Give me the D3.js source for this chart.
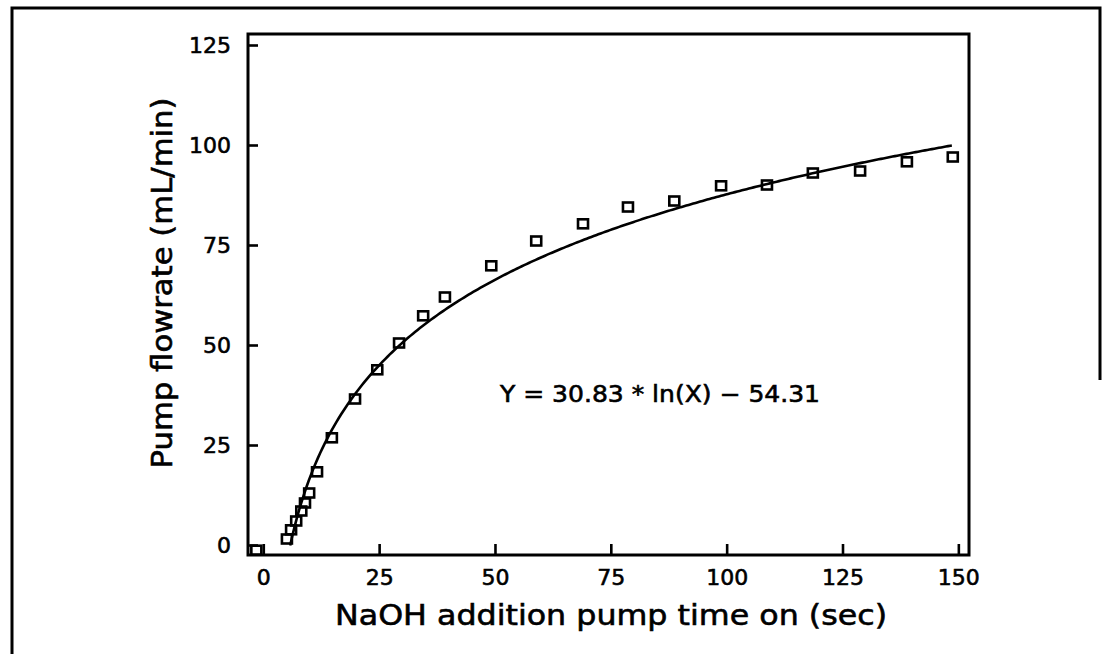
<!DOCTYPE html>
<html>
<head>
<meta charset="utf-8">
<script src="https://cdn.jsdelivr.net/npm/d3@7/dist/d3.min.js"></script>
<style>
  body { margin: 0; background: #fff; }
  svg text { font-family: "DejaVu Sans", sans-serif; fill: #000; stroke: #000; stroke-width: 0.6px; }
</style>
</head>
<body>
<div id="chart"></div>
<script>
// pump time on (sec) vs flowrate (mL/min)
var timeOn   = [-1.5, 5.1, 6.0, 7.1, 8.2, 9.0, 9.9, 11.6, 14.8, 19.8, 24.6, 29.3, 34.5, 39.2,
                49.2, 58.9, 69.0, 78.7, 88.7, 98.8, 108.7, 118.6, 128.8, 138.9, 148.8];
var flowrate = [-1.3, 1.5, 3.8, 6.0, 8.5, 10.5, 13.0, 18.3, 26.8, 36.5, 43.8, 50.5, 57.3, 62.0,
                69.8, 76.0, 80.3, 84.5, 86.0, 89.8, 90.0, 93.0, 93.5, 95.8, 97.0];

var xTicks = [0, 25, 50, 75, 100, 125, 150];
var yTicks = [0, 25, 50, 75, 100, 125];

// fitted curve  Y = 30.83 * ln(X) - 54.31
var fitSlope = 30.83, fitIntercept = -54.31;
var fitFrom = 5.8, fitTo = 148.6;

var W = 1104, H = 654;
var box = { left: 248, right: 969, top: 34, bottom: 555 };

var svg = d3.select('#chart').append('svg')
    .attr('width', W)
    .attr('height', H);

// outer frame of the scanned page (top, left, part of right)
svg.append('path')
    .attr('d', 'M12,654 L12,8 L1100,8 L1100,380')
    .attr('fill', 'none')
    .attr('stroke', '#000')
    .attr('stroke-width', 3);

var x = d3.scaleLinear().domain([-3.3, 152.3]).range([box.left, box.right]);
var y = d3.scaleLinear().domain([-2.5, 127.75]).range([box.bottom, box.top]);

var xAxis = d3.axisBottom(x).tickValues(xTicks).tickSize(-11).tickSizeOuter(0).tickPadding(14);
var yAxis = d3.axisLeft(y).tickValues(yTicks).tickSize(-10).tickSizeOuter(0).tickPadding(17);

var gx = svg.append('g')
    .attr('transform', 'translate(0,' + box.bottom + ')')
    .call(xAxis);
var gy = svg.append('g')
    .attr('transform', 'translate(' + box.left + ',0)')
    .call(yAxis);

[gx, gy].forEach(function(g) {
    g.select('.domain').remove();
    g.selectAll('.tick line').attr('stroke', '#000').style('stroke-width', '2.6px');
    g.selectAll('.tick text')
        .attr('font-size', '22px')
        .attr('font-family', '"DejaVu Sans", sans-serif')
        .attr('fill', '#000');
});

// plot box
svg.append('rect')
    .attr('x', box.left)
    .attr('y', box.top)
    .attr('width', box.right - box.left)
    .attr('height', box.bottom - box.top)
    .attr('fill', 'none')
    .attr('stroke', '#000')
    .attr('stroke-width', 3);

// fitted curve
var fitX = d3.range(fitFrom, fitTo, 0.5).concat([fitTo]);
var line = d3.line()
    .x(d => x(d))
    .y(d => y(fitSlope * Math.log(d) + fitIntercept));

svg.append('path')
    .datum(fitX)
    .attr('d', line)
    .attr('fill', 'none')
    .attr('stroke', '#000')
    .attr('stroke-width', 2.6);

// data squares
svg.selectAll('.pt')
    .data(timeOn)
    .enter()
    .append('rect')
        .attr('class', 'pt')
        .attr('x', (d, i) => x(d) - 5)
        .attr('y', (d, i) => y(flowrate[i]) - 4.5)
        .attr('width', 10)
        .attr('height', 9)
        .attr('fill', 'none')
        .attr('stroke', '#000')
        .attr('stroke-width', 2.6);

// equation
svg.append('text')
    .attr('x', 500)
    .attr('y', 402)
    .attr('font-size', '23px')
    .attr('textLength', 320)
    .attr('lengthAdjust', 'spacingAndGlyphs')
    .text('Y = 30.83 * ln(X) \u2212 54.31');

// axis titles
svg.append('text')
    .attr('x', 611)
    .attr('y', 625)
    .attr('text-anchor', 'middle')
    .attr('font-size', '29px')
    .attr('textLength', 552)
    .attr('lengthAdjust', 'spacingAndGlyphs')
    .text('NaOH addition pump time on (sec)');

svg.append('text')
    .attr('transform', 'translate(172,283) rotate(-90)')
    .attr('text-anchor', 'middle')
    .attr('font-size', '29px')
    .attr('textLength', 371)
    .attr('lengthAdjust', 'spacingAndGlyphs')
    .text('Pump flowrate (mL/min)');
</script>
</body>
</html>
